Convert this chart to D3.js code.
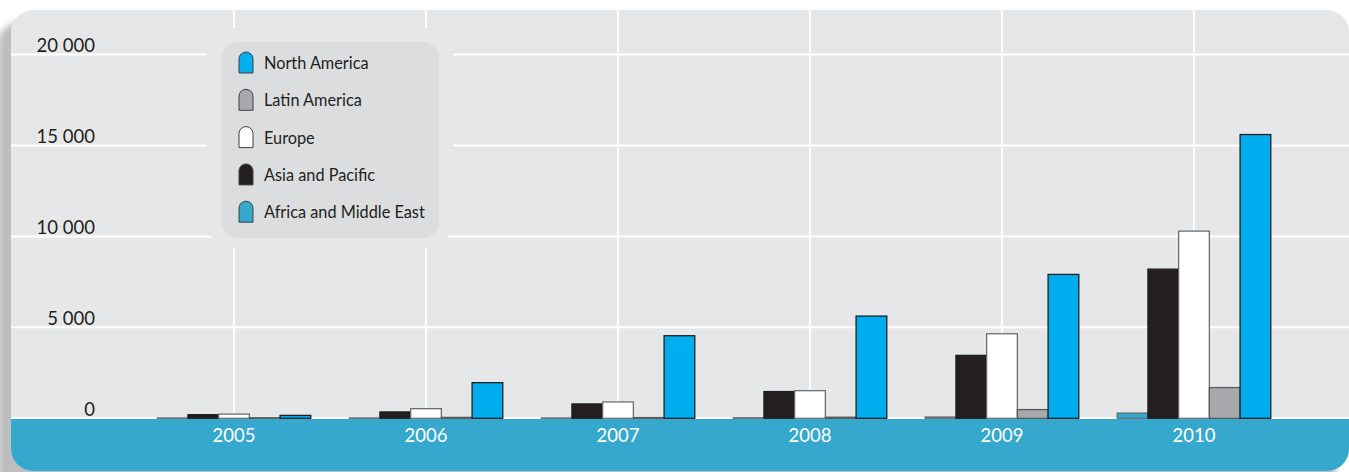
<!DOCTYPE html>
<html>
<head>
<meta charset="utf-8">
<script src="https://cdn.jsdelivr.net/npm/d3@7"></script>
<style>
  html, body { margin: 0; padding: 0; background: #ffffff; }
  svg { display: block; }
  text { font-family: Lato, "Open Sans", sans-serif; }
</style>
</head>
<body>
<svg id="chart" width="1349" height="472"></svg>
<script>
// Installed capacity by region, per year
const years = ["2005", "2006", "2007", "2008", "2009", "2010"];
const series = ["Africa and Middle East", "Asia and Pacific", "Europe", "Latin America", "North America"];
const africaMiddleEast = [20, 20, 20, 30, 70, 290];
const asiaPacific      = [200, 350, 790, 1470, 3460, 8200];
const europe           = [230, 530, 900, 1520, 4650, 10290];
const latinAmerica     = [30, 50, 40, 60, 480, 1690];
const northAmerica     = [160, 1960, 4540, 5620, 7910, 15600];
const yTicks = [0, 5000, 10000, 15000, 20000];
const legendOrder = ["North America", "Latin America", "Europe", "Asia and Pacific", "Africa and Middle East"];

const valuesBySeries = {
  "Africa and Middle East": africaMiddleEast,
  "Asia and Pacific": asiaPacific,
  "Europe": europe,
  "Latin America": latinAmerica,
  "North America": northAmerica
};
const fills = {
  "Africa and Middle East": "#36a8cd",
  "Asia and Pacific": "#231f20",
  "Europe": "#ffffff",
  "Latin America": "#a7a9ac",
  "North America": "#00adef"
};
const strokes = {
  "Africa and Middle East": "#6d6e71",
  "Asia and Pacific": "#231f20",
  "Europe": "#6d6e71",
  "Latin America": "#58595b",
  "North America": "#231f20"
};

const svg = d3.select("#chart");
const panel = { x: 11, y: 10, w: 1338, h: 461, r: 22 };
const baseY = 418.3;
const bandBottom = panel.y + panel.h;

// Scales
const x0 = d3.scaleBand().domain(years).range([138, 1290]).paddingInner(0.2).paddingOuter(0.1);
const x1 = d3.scaleBand().domain(series).range([0, x0.bandwidth()]);
const y = d3.scaleLinear().domain([0, 20000]).range([baseY, baseY - 363.8]);

// Soft shadow on the left of the panel
const defs = svg.append("defs");
defs.append("filter").attr("id", "shadow").attr("x", "-10%").attr("y", "-10%").attr("width", "120%").attr("height", "120%")
  .append("feGaussianBlur").attr("stdDeviation", 3);
defs.append("clipPath").attr("id", "panelClip")
  .append("rect").attr("x", panel.x).attr("y", panel.y).attr("width", panel.w).attr("height", panel.h)
  .attr("rx", panel.r).attr("ry", panel.r);

svg.append("rect")
  .attr("x", -2).attr("y", panel.y + 12).attr("width", panel.w).attr("height", panel.h + 10)
  .attr("rx", panel.r).attr("fill", "#bdbec0").attr("filter", "url(#shadow)");

// Panel background
svg.append("rect")
  .attr("x", panel.x).attr("y", panel.y).attr("width", panel.w).attr("height", panel.h)
  .attr("rx", panel.r).attr("ry", panel.r).attr("fill", "#e6e7e8");

const inner = svg.append("g").attr("clip-path", "url(#panelClip)");

// Grid: horizontal lines at each tick
inner.append("g").selectAll("line").data(yTicks).join("line")
  .attr("x1", panel.x).attr("x2", panel.x + panel.w)
  .attr("y1", d => y(d)).attr("y2", d => y(d))
  .attr("stroke", "#ffffff").attr("stroke-width", 2);

// Grid: vertical lines at each year centre
inner.append("g").selectAll("line").data(years).join("line")
  .attr("x1", d => x0(d) + x0.bandwidth() / 2).attr("x2", d => x0(d) + x0.bandwidth() / 2)
  .attr("y1", panel.y).attr("y2", baseY)
  .attr("stroke", "#ffffff").attr("stroke-width", 2);

// Bottom band holding the year labels
inner.append("rect")
  .attr("x", panel.x).attr("y", baseY + 0.7).attr("width", panel.w).attr("height", bandBottom - baseY)
  .attr("fill", "#36a8cd");

// Y tick labels
svg.append("g").selectAll("text").data(yTicks).join("text")
  .attr("x", 95).attr("y", d => y(d) - 2.5)
  .attr("text-anchor", "end")
  .attr("font-size", 18.5).attr("fill", "#231f20")
  .text(d => d === 0 ? "0" : d3.format(",")(d).replace(/,/g, " "));

// Year labels
svg.append("g").selectAll("text").data(years).join("text")
  .attr("x", d => x0(d) + x0.bandwidth() / 2).attr("y", 441.5)
  .attr("text-anchor", "middle")
  .attr("font-size", 18.5).attr("fill", "#ffffff")
  .text(d => d);

// Bars
const groups = svg.append("g").selectAll("g").data(years).join("g")
  .attr("transform", d => `translate(${x0(d)},0)`);
groups.selectAll("rect")
  .data((yr, i) => series.map(s => ({ s, v: valuesBySeries[s][i] })))
  .join("rect")
  .attr("x", d => x1(d.s))
  .attr("y", d => y(d.v))
  .attr("width", x1.bandwidth())
  .attr("height", d => baseY - y(d.v))
  .attr("fill", d => fills[d.s])
  .attr("stroke", d => strokes[d.s])
  .attr("stroke-width", 1.3);

// Legend with a halo of panel colour around it
const lg = { x: 221, y: 42, w: 218, h: 196 };
svg.append("rect")
  .attr("x", lg.x - 14).attr("y", lg.y - 14).attr("width", lg.w + 28).attr("height", lg.h + 14 + 10)
  .attr("rx", 26).attr("fill", "#e6e7e8");
svg.append("rect")
  .attr("x", lg.x).attr("y", lg.y).attr("width", lg.w).attr("height", lg.h)
  .attr("rx", 16).attr("fill", "#dcdddf");

const swW = 14, swH = 21, rowStep = 37.3;
const items = svg.append("g").selectAll("g").data(legendOrder).join("g")
  .attr("transform", (d, i) => `translate(239,${52 + i * rowStep})`);
items.append("path")
  .attr("d", `M0,${swH} V${swW / 2} A${swW / 2},${swW / 2} 0 0 1 ${swW},${swW / 2} V${swH} Z`)
  .attr("fill", d => fills[d])
  .attr("stroke", "#414042").attr("stroke-width", 1);
items.append("text")
  .attr("x", 25).attr("y", swH - 4)
  .attr("font-size", 16.3).attr("fill", "#231f20")
  .text(d => d);
</script>
</body>
</html>
